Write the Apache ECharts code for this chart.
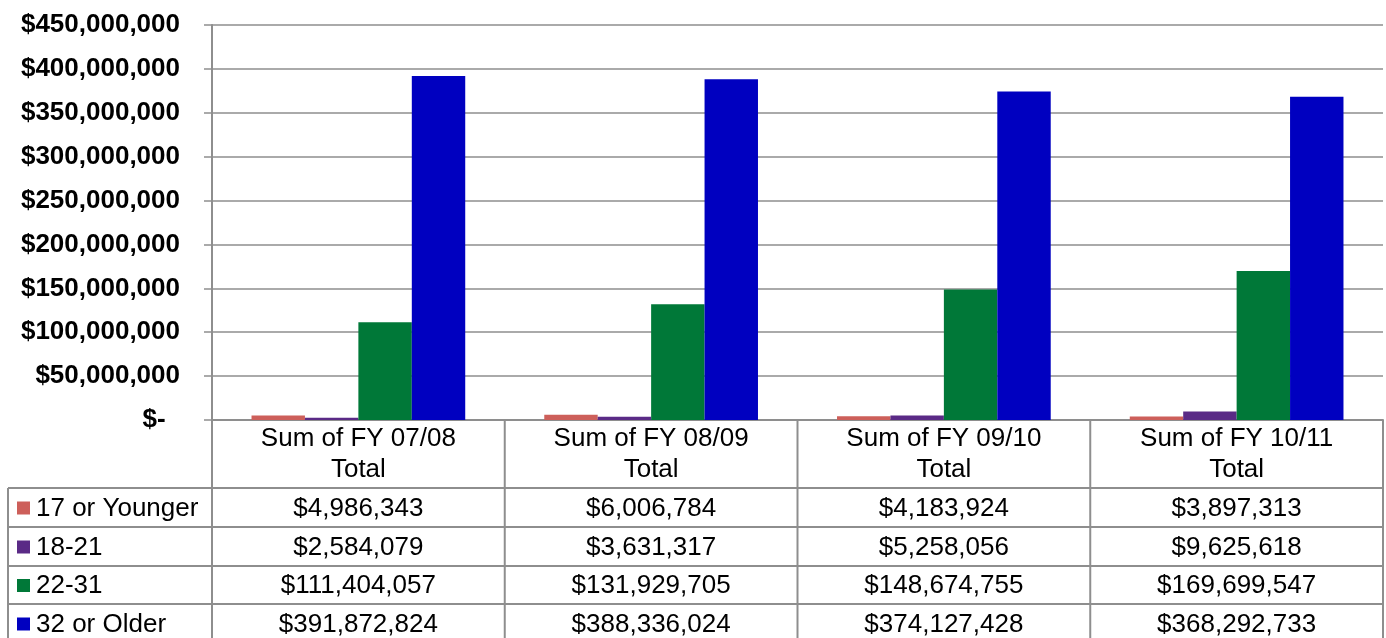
<!DOCTYPE html>
<html>
<head>
<meta charset="utf-8">
<script src="https://cdn.jsdelivr.net/npm/echarts@6/dist/echarts.min.js"></script>
<style>
  html, body { margin: 0; padding: 0; background: #ffffff; }
  #chart { width: 1386px; height: 638px; }
</style>
</head>
<body>
<div id="chart"></div>
<script>
// Fiscal-year columns and age-group series
const categories = ['Sum of FY 07/08\nTotal', 'Sum of FY 08/09\nTotal', 'Sum of FY 09/10\nTotal', 'Sum of FY 10/11\nTotal'];
const seriesNames = ['17 or Younger', '18-21', '22-31', '32 or Older'];
const age17OrYounger = [4986343, 6006784, 4183924, 3897313];
const age18to21 = [2584079, 3631317, 5258056, 9625618];
const age22to31 = [111404057, 131929705, 148674755, 169699547];
const age32OrOlder = [391872824, 388336024, 374127428, 368292733];
const yMin = 0, yMax = 450000000, yStep = 50000000;

const seriesData = [age17OrYounger, age18to21, age22to31, age32OrOlder];
const colors = ['#cd5f5a', '#5a2a86', '#007838', '#0000c0'];

const FONT = '"Liberation Sans", Arial, sans-serif';
const FONT_SIZE = 26;
const LINE = '#8e8e8e';

function money(v) {
  return '$' + String(Math.round(v)).replace(/\B(?=(\d{3})+(?!\d))/g, ',');
}

const gridLeft = 212, gridRight = 3, gridTop = 25, gridBottom = 218;
const W = 1386, H = 638;

const chart = echarts.init(document.getElementById('chart'), null, { renderer: 'canvas' });

chart.setOption({
  animation: false,
  color: colors,
  grid: { left: gridLeft, right: gridRight, top: gridTop, bottom: gridBottom, containLabel: false },
  xAxis: {
    type: 'category',
    data: categories,
    axisLine: { show: true, lineStyle: { color: LINE, width: 2 } },
    axisTick: { show: false },
    axisLabel: {
      interval: 0,
      margin: 3,
      verticalAlign: 'top',
      color: '#000',
      fontFamily: FONT,
      fontSize: FONT_SIZE,
      lineHeight: 31
    }
  },
  yAxis: {
    type: 'value',
    min: yMin,
    max: yMax,
    interval: yStep,
    axisLine: { show: true, lineStyle: { color: LINE, width: 2 } },
    axisTick: { show: true, length: 8, lineStyle: { color: LINE, width: 1.5 } },
    splitLine: { show: true, lineStyle: { color: LINE, width: 1.5 } },
    axisLabel: {
      margin: 32,
      color: '#000',
      fontFamily: FONT,
      fontSize: FONT_SIZE,
      fontWeight: 'bold',
      formatter: v => (v === 0 ? '$-  ' : money(v))
    }
  },
  series: seriesNames.map((name, i) => ({
    name,
    type: 'bar',
    data: seriesData[i],
    barGap: '0%',
    barCategoryGap: '27%',
    itemStyle: { color: colors[i] }
  }))
});

// Data table under the plot: row lines, column lines, legend keys and values
const axisY = H - gridBottom;          // x-axis line
const rowTops = [488, 527, 566, 604, 643];
const tableLeft = 8;
const tableRight = W - gridRight;
const graphics = [];

const boundaries = [];
for (let i = 0; i <= categories.length; i++) {
  boundaries.push(gridLeft + (tableRight - gridLeft) * i / categories.length);
}
boundaries.forEach(x => {
  graphics.push({
    type: 'line', silent: true,
    shape: { x1: x, y1: axisY, x2: x, y2: H + 10 },
    style: { stroke: LINE, lineWidth: 2 }
  });
});
graphics.push({
  type: 'line', silent: true,
  shape: { x1: tableLeft, y1: rowTops[0], x2: tableLeft, y2: H + 10 },
  style: { stroke: LINE, lineWidth: 2 }
});
rowTops.forEach(y => {
  graphics.push({
    type: 'line', silent: true,
    shape: { x1: tableLeft, y1: y, x2: tableRight, y2: y },
    style: { stroke: LINE, lineWidth: 2 }
  });
});

seriesNames.forEach((name, r) => {
  const cy = (rowTops[r] + rowTops[r + 1]) / 2 + 1;
  graphics.push({
    type: 'rect', silent: true,
    shape: { x: 17, y: cy - 7, width: 13, height: 13 },
    style: { fill: colors[r] }
  });
  graphics.push({
    type: 'text', silent: true,
    x: 36, y: cy,
    style: { text: name, fill: '#000', font: FONT_SIZE + 'px ' + FONT, textAlign: 'left', textVerticalAlign: 'middle' }
  });
  seriesData[r].forEach((v, c) => {
    const cx = chart.convertToPixel({ xAxisIndex: 0 }, c);
    graphics.push({
      type: 'text', silent: true,
      x: cx, y: cy,
      style: { text: money(v), fill: '#000', font: FONT_SIZE + 'px ' + FONT, textAlign: 'center', textVerticalAlign: 'middle' }
    });
  });
});

chart.setOption({ graphic: graphics });
</script>
</body>
</html>
